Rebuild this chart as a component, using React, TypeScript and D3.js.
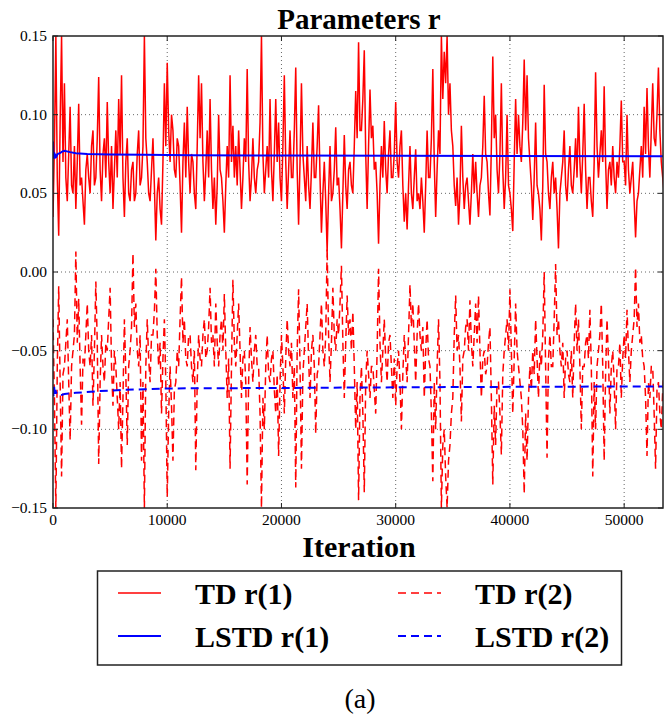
import { useRef, useEffect } from 'react';
import * as d3 from 'd3';

// sampled TD estimates, one value every tdStep iterations
const tdStep = 125;

const tdR1 = [
  0.035, 0.080, 0.150, 0.060, 0.023, 0.095, 0.150, 0.070,
  0.120, 0.060, 0.045, 0.075, 0.105, 0.055, 0.050, 0.080,
  0.040, 0.070, 0.107, 0.055, 0.060, 0.045, 0.030, 0.065,
  0.075, 0.060, 0.050, 0.080, 0.090, 0.055, 0.060, 0.085,
  0.124, 0.065, 0.045, 0.075, 0.085, 0.060, 0.108, 0.070,
  0.050, 0.080, 0.040, 0.065, 0.090, 0.060, 0.110, 0.075,
  0.125, 0.060, 0.035, 0.070, 0.085, 0.050, 0.045, 0.065,
  0.070, 0.045, 0.050, 0.075, 0.090, 0.055, 0.060, 0.080,
  0.150, 0.085, 0.070, 0.050, 0.045, 0.065, 0.085, 0.055,
  0.020, 0.050, 0.060, 0.040, 0.030, 0.070, 0.120, 0.080,
  0.133, 0.090, 0.070, 0.100, 0.090, 0.065, 0.060, 0.085,
  0.080, 0.055, 0.025, 0.070, 0.095, 0.060, 0.105, 0.070,
  0.050, 0.075, 0.070, 0.050, 0.040, 0.080, 0.125, 0.085,
  0.120, 0.070, 0.045, 0.065, 0.090, 0.060, 0.110, 0.065,
  0.040, 0.060, 0.030, 0.055, 0.100, 0.065, 0.060, 0.045,
  0.025, 0.055, 0.080, 0.060, 0.125, 0.070, 0.093, 0.060,
  0.080, 0.055, 0.090, 0.065, 0.040, 0.060, 0.085, 0.070,
  0.129, 0.070, 0.045, 0.060, 0.085, 0.060, 0.050, 0.065,
  0.070, 0.095, 0.150, 0.075, 0.050, 0.065, 0.080, 0.060,
  0.110, 0.065, 0.045, 0.075, 0.110, 0.070, 0.095, 0.060,
  0.045, 0.080, 0.125, 0.070, 0.040, 0.065, 0.090, 0.060,
  0.060, 0.090, 0.130, 0.065, 0.030, 0.070, 0.120, 0.075,
  0.060, 0.045, 0.080, 0.055, 0.040, 0.065, 0.095, 0.060,
  0.060, 0.080, 0.106, 0.060, 0.025, 0.050, 0.070, 0.045,
  0.013, 0.050, 0.080, 0.045, 0.050, 0.065, 0.092, 0.055,
  0.060, 0.040, 0.015, 0.050, 0.087, 0.055, 0.040, 0.065,
  0.070, 0.055, 0.050, 0.080, 0.115, 0.085, 0.146, 0.090,
  0.090, 0.110, 0.141, 0.075, 0.040, 0.080, 0.116, 0.085,
  0.093, 0.065, 0.070, 0.050, 0.018, 0.055, 0.080, 0.060,
  0.096, 0.065, 0.050, 0.075, 0.090, 0.060, 0.060, 0.075,
  0.108, 0.070, 0.060, 0.080, 0.090, 0.055, 0.032, 0.050,
  0.027, 0.055, 0.080, 0.050, 0.040, 0.060, 0.078, 0.045,
  0.050, 0.040, 0.060, 0.045, 0.025, 0.055, 0.090, 0.060,
  0.060, 0.085, 0.129, 0.070, 0.035, 0.065, 0.090, 0.075,
  0.150, 0.110, 0.140, 0.120, 0.150, 0.100, 0.120, 0.090,
  0.080, 0.055, 0.042, 0.060, 0.030, 0.050, 0.093, 0.060,
  0.040, 0.055, 0.060, 0.045, 0.030, 0.050, 0.075, 0.050,
  0.070, 0.050, 0.035, 0.055, 0.060, 0.080, 0.112, 0.075,
  0.070, 0.050, 0.036, 0.080, 0.137, 0.085, 0.100, 0.065,
  0.050, 0.075, 0.120, 0.065, 0.040, 0.060, 0.100, 0.055,
  0.050, 0.040, 0.026, 0.070, 0.110, 0.075, 0.100, 0.080,
  0.070, 0.095, 0.135, 0.090, 0.125, 0.085, 0.070, 0.055,
  0.033, 0.060, 0.095, 0.055, 0.050, 0.040, 0.020, 0.055,
  0.119, 0.075, 0.070, 0.050, 0.040, 0.060, 0.070, 0.050,
  0.060, 0.040, 0.015, 0.050, 0.060, 0.070, 0.090, 0.055,
  0.045, 0.065, 0.080, 0.055, 0.050, 0.065, 0.085, 0.060,
  0.105, 0.070, 0.050, 0.075, 0.107, 0.065, 0.040, 0.060,
  0.060, 0.045, 0.035, 0.070, 0.127, 0.080, 0.060, 0.075,
  0.090, 0.070, 0.118, 0.070, 0.040, 0.065, 0.070, 0.055,
  0.080, 0.060, 0.050, 0.070, 0.060, 0.080, 0.109, 0.070,
  0.070, 0.055, 0.100, 0.065, 0.050, 0.060, 0.070, 0.045,
  0.022, 0.045, 0.050, 0.065, 0.080, 0.060, 0.105, 0.075,
  0.117, 0.080, 0.060, 0.090, 0.120, 0.085, 0.080, 0.100,
  0.130, 0.090, 0.070, 0.060, 0.050,
];

const tdR2 = [
  -0.030, -0.080, -0.150, -0.060, -0.009, -0.070, -0.130, -0.065,
  -0.060, -0.045, -0.030, -0.070, -0.107, -0.060, -0.050, -0.040,
  0.013, -0.045, -0.017, -0.060, -0.097, -0.055, -0.060, -0.040,
  -0.020, -0.050, -0.060, -0.040, -0.085, -0.050, -0.006, -0.045,
  -0.122, -0.070, -0.040, -0.060, -0.070, -0.045, -0.050, -0.030,
  -0.010, -0.060, -0.085, -0.050, -0.060, -0.080, -0.100, -0.070,
  -0.125, -0.080, -0.030, -0.065, -0.110, -0.060, -0.050, -0.035,
  0.012, -0.035, -0.020, -0.050, -0.060, -0.040, -0.120, -0.070,
  -0.150, -0.060, -0.030, -0.055, -0.070, -0.040, -0.040, -0.025,
  0.002, -0.040, -0.060, -0.045, -0.090, -0.055, -0.030, -0.070,
  -0.143, -0.090, -0.060, -0.085, -0.120, -0.075, -0.070, -0.050,
  -0.060, -0.030, -0.003, -0.045, -0.030, -0.055, -0.060, -0.040,
  -0.040, -0.060, -0.070, -0.050, -0.126, -0.070, -0.040, -0.055,
  -0.060, -0.040, -0.030, -0.055, -0.050, -0.035, -0.010, -0.045,
  -0.040, -0.060, -0.020, -0.045, -0.060, -0.040, -0.030, -0.050,
  -0.014, -0.050, -0.080, -0.055, -0.125, -0.060, -0.005, -0.045,
  -0.060, -0.040, -0.020, -0.050, -0.080, -0.055, -0.050, -0.070,
  -0.135, -0.070, -0.035, -0.055, -0.070, -0.050, -0.040, -0.060,
  -0.060, -0.090, -0.150, -0.080, -0.100, -0.060, -0.040, -0.065,
  -0.070, -0.055, -0.050, -0.075, -0.090, -0.065, -0.117, -0.070,
  -0.040, -0.060, -0.090, -0.055, -0.030, -0.050, -0.060, -0.045,
  -0.080, -0.060, -0.137, -0.050, -0.011, -0.060, -0.125, -0.065,
  -0.050, -0.035, -0.020, -0.055, -0.080, -0.050, -0.040, -0.060,
  -0.103, -0.065, -0.060, -0.040, -0.020, -0.050, -0.060, -0.040,
  0.015, -0.040, -0.070, -0.045, -0.010, -0.040, -0.050, -0.030,
  -0.040, -0.020, 0.004, -0.045, -0.080, -0.045, -0.015, -0.040,
  -0.030, -0.050, -0.025, -0.060, -0.100, -0.070, -0.145, -0.080,
  -0.060, -0.090, -0.140, -0.070, -0.050, -0.065, -0.080, -0.060,
  -0.060, -0.075, -0.090, -0.050, 0.002, -0.045, -0.070, -0.050,
  -0.030, -0.055, -0.070, -0.045, -0.040, -0.060, -0.080, -0.055,
  -0.085, -0.060, -0.050, -0.070, -0.100, -0.065, -0.040, -0.055,
  -0.070, -0.040, -0.008, -0.035, -0.020, -0.045, -0.070, -0.040,
  -0.020, -0.040, -0.050, -0.035, -0.080, -0.050, -0.030, -0.055,
  -0.060, -0.090, -0.133, -0.070, -0.100, -0.060, -0.030, -0.070,
  -0.150, -0.110, -0.100, -0.130, -0.150, -0.120, -0.110, -0.090,
  -0.080, -0.040, -0.015, -0.050, -0.040, -0.060, -0.095, -0.055,
  -0.050, -0.035, -0.030, -0.050, -0.018, -0.045, -0.060, -0.040,
  -0.020, -0.045, -0.015, -0.050, -0.080, -0.055, -0.050, -0.065,
  -0.060, -0.045, -0.035, -0.080, -0.135, -0.085, -0.110, -0.070,
  -0.070, -0.090, -0.116, -0.065, -0.050, -0.040, -0.030, -0.050,
  -0.011, -0.050, -0.090, -0.055, -0.020, -0.050, -0.060, -0.070,
  -0.080, -0.100, -0.141, -0.090, -0.120, -0.080, -0.060, -0.075,
  -0.050, -0.065, -0.030, -0.055, -0.080, -0.050, -0.060, -0.040,
  0.000, -0.060, -0.118, -0.055, -0.040, -0.060, -0.060, -0.030,
  0.005, -0.040, -0.030, -0.050, -0.060, -0.045, -0.080, -0.055,
  -0.050, -0.065, -0.070, -0.050, -0.080, -0.045, -0.020, -0.050,
  -0.030, -0.060, -0.100, -0.060, -0.060, -0.045, -0.040, -0.055,
  -0.024, -0.060, -0.130, -0.070, -0.100, -0.060, -0.050, -0.040,
  -0.020, -0.060, -0.120, -0.065, -0.030, -0.055, -0.090, -0.060,
  -0.050, -0.070, -0.100, -0.060, -0.060, -0.045, -0.080, -0.055,
  -0.040, -0.055, -0.024, -0.050, -0.070, -0.050, -0.040, -0.030,
  0.003, -0.035, -0.020, -0.045, -0.040, -0.055, -0.060, -0.080,
  -0.117, -0.070, -0.080, -0.060, -0.060, -0.090, -0.125, -0.075,
  -0.070, -0.090, -0.100, -0.075, -0.060,
];

const lstdR1Iter = [0, 50, 100, 150, 200, 300, 400, 600, 800, 1000, 1500, 2000, 3000, 5000, 8000, 12000, 20000, 30000, 40000, 53500];
const lstdR1 = [0.083, 0.072, 0.076, 0.072, 0.0745, 0.0735, 0.075, 0.0755, 0.0765, 0.077, 0.0762, 0.0755, 0.075, 0.0747, 0.0745, 0.0742, 0.074, 0.0739, 0.0737, 0.0735];

const lstdR2Iter = [0, 50, 100, 150, 200, 300, 500, 800, 1000, 2000, 4000, 6000, 8000, 10000, 20000, 30000, 40000, 53500];
const lstdR2 = [-0.074, -0.079, -0.073, -0.078, -0.075, -0.077, -0.0785, -0.078, -0.0775, -0.0768, -0.0757, -0.075, -0.0745, -0.074, -0.0737, -0.0733, -0.073, -0.0727];

const xTicks = [0, 10000, 20000, 30000, 40000, 50000];
const yTicks = [-0.15, -0.1, -0.05, 0, 0.05, 0.1, 0.15];

const legendItems = [
  { label: 'TD r(1)', color: '#ff0000', dash: null, width: 1.4 },
  { label: 'TD r(2)', color: '#ff0000', dash: '8,5', width: 1.4 },
  { label: 'LSTD r(1)', color: '#0000ff', dash: null, width: 2 },
  { label: 'LSTD r(2)', color: '#0000ff', dash: '8,5', width: 2 },
];

const FONT = '"Liberation Serif", "Times New Roman", serif';

export default function App() {
  const ref = useRef(null);

  useEffect(() => {
    const width = 664;
    const height = 719;
    const m = { left: 53, top: 36, right: 663, bottom: 508 };

    const svg = d3.select(ref.current);
    svg.selectAll('*').remove();
    svg.attr('width', width).attr('height', height);

    const x = d3.scaleLinear().domain([0, 53400]).range([m.left, m.right]);
    const y = d3.scaleLinear().domain([-0.15, 0.15]).range([m.bottom, m.top]);

    svg.append('rect').attr('width', width).attr('height', height).attr('fill', '#fff');

    svg
      .append('defs')
      .append('clipPath')
      .attr('id', 'plot-clip')
      .append('rect')
      .attr('x', m.left)
      .attr('y', m.top)
      .attr('width', m.right - m.left)
      .attr('height', m.bottom - m.top);

    // dotted grid
    const grid = svg.append('g').attr('stroke', '#000').attr('stroke-opacity', 0.6).attr('stroke-dasharray', '1,3');
    grid
      .selectAll('line.gx')
      .data(xTicks.filter((t) => t > 0))
      .join('line')
      .attr('x1', (d) => x(d))
      .attr('x2', (d) => x(d))
      .attr('y1', m.top)
      .attr('y2', m.bottom);
    grid
      .selectAll('line.gy')
      .data(yTicks.slice(1, -1))
      .join('line')
      .attr('class', 'gy')
      .attr('x1', m.left)
      .attr('x2', m.right)
      .attr('y1', (d) => y(d))
      .attr('y2', (d) => y(d));

    const plot = svg.append('g').attr('clip-path', 'url(#plot-clip)').attr('fill', 'none');

    const tdLine = d3
      .line()
      .x((_, i) => x(i * tdStep))
      .y((d) => y(d));

    plot.append('path').attr('d', tdLine(tdR1)).attr('stroke', '#ff0000').attr('stroke-width', 1.5);
    plot
      .append('path')
      .attr('d', tdLine(tdR2))
      .attr('stroke', '#ff0000')
      .attr('stroke-width', 1.5)
      .attr('stroke-dasharray', '8,5');

    const l1 = d3
      .line()
      .x((_, i) => x(lstdR1Iter[i]))
      .y((d) => y(d));
    const l2 = d3
      .line()
      .x((_, i) => x(lstdR2Iter[i]))
      .y((d) => y(d));

    plot.append('path').attr('d', l1(lstdR1)).attr('stroke', '#0000ff').attr('stroke-width', 2);
    plot.append('path').attr('d', l2(lstdR2)).attr('stroke', '#0000ff').attr('stroke-width', 2).attr('stroke-dasharray', '8,5');

    // frame + inside ticks
    svg
      .append('rect')
      .attr('x', m.left)
      .attr('y', m.top)
      .attr('width', m.right - m.left)
      .attr('height', m.bottom - m.top)
      .attr('fill', 'none')
      .attr('stroke', '#222')
      .attr('stroke-width', 1.5);

    const ticks = svg.append('g').attr('stroke', '#222').attr('stroke-width', 1);
    xTicks.forEach((t) => {
      ticks.append('line').attr('x1', x(t)).attr('x2', x(t)).attr('y1', m.bottom).attr('y2', m.bottom - 5);
      ticks.append('line').attr('x1', x(t)).attr('x2', x(t)).attr('y1', m.top).attr('y2', m.top + 5);
    });
    yTicks.forEach((t) => {
      ticks.append('line').attr('x1', m.left).attr('x2', m.left + 5).attr('y1', y(t)).attr('y2', y(t));
      ticks.append('line').attr('x1', m.right).attr('x2', m.right - 5).attr('y1', y(t)).attr('y2', y(t));
    });

    const fmtY = (v) => d3.format('.2f')(v).replace('-', '\u2212');

    svg
      .append('g')
      .selectAll('text')
      .data(xTicks)
      .join('text')
      .attr('x', (d) => x(d))
      .attr('y', m.bottom + 17)
      .attr('text-anchor', 'middle')
      .style('font-family', FONT)
      .style('font-size', '15.5px')
      .text((d) => d);

    svg
      .append('g')
      .selectAll('text')
      .data(yTicks)
      .join('text')
      .attr('x', m.left - 6)
      .attr('y', (d) => y(d) + 5)
      .attr('text-anchor', 'end')
      .style('font-family', FONT)
      .style('font-size', '15.5px')
      .text((d) => fmtY(d));

    const bold = (sel) => sel.style('font-family', FONT).style('font-weight', 'bold');

    bold(svg.append('text').attr('x', 359).attr('y', 29).attr('text-anchor', 'middle').style('font-size', '29px').text('Parameters r'));
    bold(svg.append('text').attr('x', 359).attr('y', 557).attr('text-anchor', 'middle').style('font-size', '30px').text('Iteration'));

    // legend
    const legend = svg.append('g');
    legend
      .append('rect')
      .attr('x', 97.5)
      .attr('y', 571)
      .attr('width', 524)
      .attr('height', 94)
      .attr('fill', '#fff')
      .attr('stroke', '#222')
      .attr('stroke-width', 1.5);

    const cols = [118, 398];
    const rows = [593, 636];
    const item = legend
      .selectAll('g.item')
      .data(legendItems)
      .join('g')
      .attr('transform', (_, i) => `translate(${cols[i % 2]}, ${rows[Math.floor(i / 2)]})`);

    item
      .append('line')
      .attr('x1', 0)
      .attr('x2', 43)
      .attr('stroke', (d) => d.color)
      .attr('stroke-width', (d) => d.width)
      .attr('stroke-dasharray', (d) => d.dash);

    bold(item.append('text').attr('x', 77).attr('y', 11).style('font-size', '30px').text((d) => d.label));

    svg
      .append('text')
      .attr('x', 360)
      .attr('y', 708)
      .attr('text-anchor', 'middle')
      .style('font-family', FONT)
      .style('font-size', '28px')
      .text('(a)');
  }, []);

  return <svg ref={ref} style={{ position: 'absolute', left: 0, top: 0 }} />;
}
